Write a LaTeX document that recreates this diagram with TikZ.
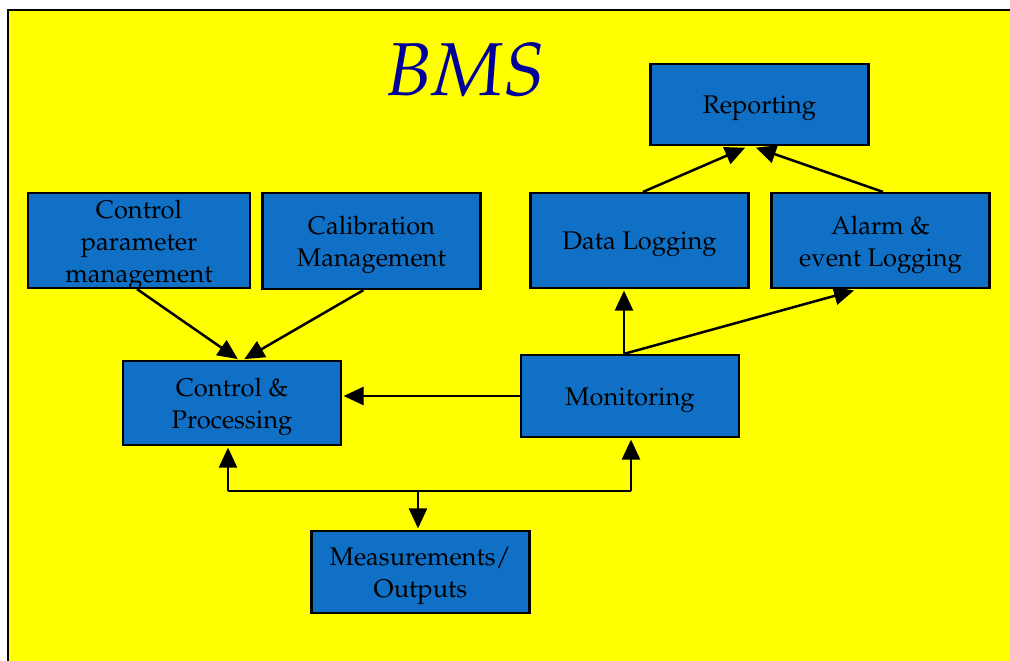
\documentclass[tikz,border=0pt]{standalone}
\usepackage[T1]{fontenc}
\usepackage{mathpazo}
\usetikzlibrary{arrows.meta,calc}
\definecolor{bgyellow}{HTML}{FFFF00}
\definecolor{boxblue}{HTML}{1070C6}
\definecolor{titleblue}{HTML}{000099}
\begin{document}
\begin{tikzpicture}[x=1pt,y=-1pt,
  block/.style={draw=black,line width=2.2pt,fill=boxblue,rectangle,
    minimum width=218pt,inner sep=0pt},
  blocktext/.style={inner sep=0pt,align=center,yshift=-4pt,
    font=\fontsize{25.5}{32}\selectfont},
  arr/.style={line width=2.5pt,-{Triangle[length=20pt,width=18pt]},shorten >=1.5pt},
  bus/.style={line width=2.5pt}]
  % page and slide frame
  \fill[white] (0,0) rectangle (1010,661);
  \useasboundingbox (0,0) rectangle (1010,661);
  \fill[bgyellow] (8,10) rectangle (1012,663);
  \draw[line width=2.2pt] (8,663) -- (8,10) -- (1012,10);

  % title
  \node[text=titleblue,font=\fontsize{75}{80}\selectfont\itshape] (title) at (466,70) {BMS};

  % blocks
  \node[block,minimum height=81pt] (rep) at (759.5,104.5) {};
  \node[block,minimum height=95pt,minimum width=222pt] (cpm) at (139,240.5) {};
  \node[block,minimum height=96pt] (cal) at (371.5,241) {};
  \node[block,minimum height=95pt] (dl) at (639.5,240.5) {};
  \node[block,minimum height=95pt] (al) at (880.5,240.5) {};
  \node[block,minimum height=84pt] (cp) at (232,403) {};
  \node[block,minimum height=82pt] (mon) at (630,396) {};
  \node[block,minimum height=82pt] (meas) at (420.5,572) {};

  % block captions
  \node[blocktext] (repT) at (rep.center) {Reporting};
  \node[blocktext] (cpmT) at (cpm.center) {Control\\parameter\\management};
  \node[blocktext] (calT) at (cal.center) {Calibration\\Management};
  \node[blocktext] (dlT) at (dl.center) {Data Logging};
  \node[blocktext] (alT) at (al.center) {Alarm \&\\event Logging};
  \node[blocktext] (cpT) at (cp.center) {Control \&\\Processing};
  \node[blocktext] (monT) at (mon.center) {Monitoring};
  \node[blocktext] (measT) at (meas.center) {Measurements/\\Outputs};

  % setpoint and calibration inputs
  \draw[arr] ([xshift=-2pt]cpm.south) -- ([xshift=7pt]cp.north);
  \draw[arr] ([xshift=-8pt]cal.south) -- ([xshift=11pt]cp.north);

  % monitoring outputs
  \coordinate (mtop) at ([xshift=-6pt]mon.north);
  \draw[arr] (mon.west) -- ([yshift=7pt]cp.east);
  \draw[arr] (mtop) -- (mtop |- dl.south);
  \draw[arr] (mtop) -- ([xshift=-25pt,yshift=-1pt]al.south);

  % logging into reporting
  \draw[arr] ([xshift=3.5pt]dl.north) -- ([xshift=-13pt,yshift=-1pt]rep.south);
  \draw[arr] ([xshift=2.5pt]al.north) -- ([xshift=-5pt,yshift=-1pt]rep.south);

  % measurement bus
  \coordinate (busL) at (228,491);
  \coordinate (busR) at (631,491);
  \coordinate (busM) at (418,491);
  \draw[bus] (busL) -- (busR);
  \draw[arr] (busL) -- (busL |- cp.south);
  \draw[arr] (busR) -- (busR |- mon.south);
  \draw[arr] (busM) -- (busM |- meas.north);
\end{tikzpicture}
\end{document}
